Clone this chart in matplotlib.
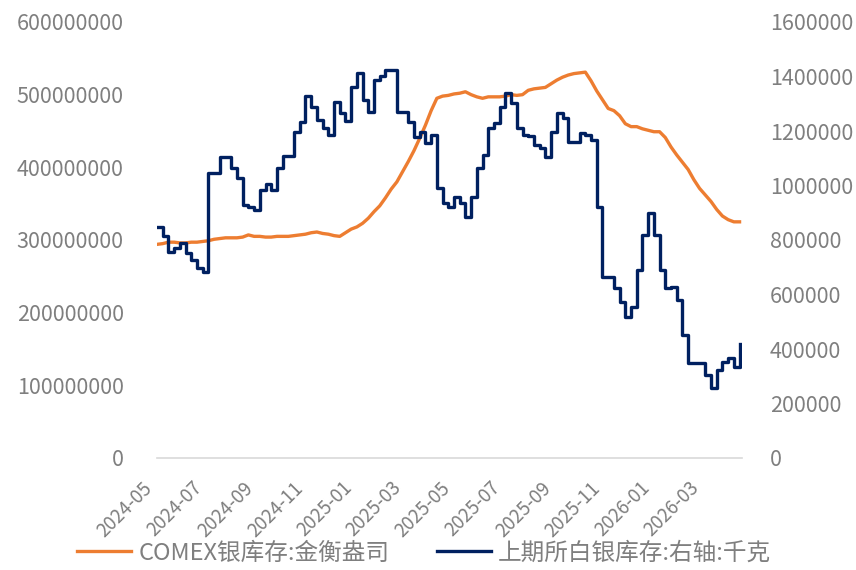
import pandas as pd
import matplotlib
matplotlib.use("Agg")
import matplotlib.pyplot as plt
import matplotlib.dates as mdates
from matplotlib.ticker import FuncFormatter, MultipleLocator

plt.rcParams["font.family"] = ["Noto Sans CJK SC", "DejaVu Sans"]

# ---------- Data (weekly) ----------
dates = pd.date_range("2024-05-06", periods=103, freq="7D")

# COMEX silver stocks, troy oz (left axis), in millions
comex_m = [
    294, 295, 297, 297, 296, 296, 297, 297, 298, 299,
    301, 302, 303, 303, 303, 304, 307, 305, 305, 304,
    304, 305, 305, 305, 306, 307, 308, 310, 311, 309,
    308, 306, 305, 310, 315, 318, 323, 330, 339, 347,
    358, 370, 380, 394, 408, 423, 440, 458, 478, 495,
    498, 499, 501, 502, 504, 500, 497, 495, 497, 497,
    497, 498, 500, 499, 500, 506, 508, 509, 510, 515,
    520, 524, 527, 529, 530, 531, 519, 505, 493, 481,
    478, 471, 460, 456, 456, 453, 451, 449, 449, 441,
    428, 417, 407, 397, 383, 371, 362, 353, 342, 333,
    328, 325, 325,
]

# SHFE silver stocks, kg (right axis), in thousands
shfe_k = [
    848, 815, 756, 770, 789, 752, 727, 697, 683,
    1046, 1046, 1105, 1105, 1064, 1028, 928, 921, 910, 983, 1005, 983,
    1064, 1108, 1108, 1196, 1233, 1328, 1288, 1240, 1211, 1185,
    1306, 1266, 1237, 1361, 1413, 1314, 1270, 1387, 1402, 1424, 1424,
    1270, 1270, 1233, 1178, 1196, 1156, 1185, 991, 936, 921, 958, 936, 884, 958,
    1064, 1112, 1211, 1229, 1288, 1339, 1303, 1211, 1185, 1180, 1149, 1138, 1105,
    1196, 1266, 1248, 1160, 1160, 1193, 1185, 1167, 921, 664, 664, 624, 572, 517, 554,
    690, 818, 899, 818, 690, 624, 628, 580, 451, 349, 349, 349, 305, 257, 323, 352, 367, 334, 418,
]

comex = [v * 1e6 for v in comex_m]
shfe = [v * 1e3 for v in shfe_k]

label_comex = "COMEX银库存:金衡盎司"
label_shfe = "上期所白银库存:右轴:千克"

# ---------- Plot ----------
grey = "#7f7f7f"
fig = plt.figure(figsize=(8.56, 5.70), dpi=100)
ax = fig.add_axes([157 / 856, 1 - 458 / 570, (742 - 157) / 856, (458 - 22) / 570])
ax2 = ax.twinx()

l1, = ax.plot(dates, comex, color="#ED7D31", lw=2.4, label=label_comex)
l2, = ax2.plot(dates, shfe, color="#002060", lw=2.4, drawstyle="steps-post",
               label=label_shfe)

ax.set_ylim(0, 600e6)
ax.yaxis.set_major_locator(MultipleLocator(100e6))
ax2.set_ylim(0, 1.6e6)
ax2.yaxis.set_major_locator(MultipleLocator(200e3))
fmt = FuncFormatter(lambda v, p: f"{v:.0f}")
ax.yaxis.set_major_formatter(fmt)
ax2.yaxis.set_major_formatter(fmt)

ax.set_xlim(dates[0], dates[-1] + pd.Timedelta(days=3))
ax.xaxis.set_major_locator(mdates.MonthLocator(bymonth=[1, 3, 5, 7, 9, 11], bymonthday=6))
ax.xaxis.set_major_formatter(mdates.DateFormatter("%Y-%m"))

for a in (ax, ax2):
    for s in a.spines.values():
        s.set_visible(False)
ax.spines["bottom"].set_visible(True)
ax.spines["bottom"].set_color("#d9d9d9")
ax.spines["bottom"].set_linewidth(1.2)

ax.tick_params(axis="y", length=0, pad=24, labelsize=15.5, labelcolor=grey)
ax2.tick_params(axis="y", length=0, pad=20, labelsize=15.5, labelcolor=grey)
ax.tick_params(axis="x", length=0, pad=14, labelsize=13.5, labelcolor=grey)
for t in ax.get_xticklabels():
    t.set_rotation(45)
    t.set_ha("right")

fig.legend([l1, l2], [label_comex, label_shfe], loc="center",
           bbox_to_anchor=(424 / 856, 1 - 553 / 570), ncol=2, frameon=False,
           fontsize=17, labelcolor=grey, handlelength=2.3, handletextpad=0.3,
           columnspacing=2.0, borderaxespad=0)

fig.savefig("out.png", dpi=100)
